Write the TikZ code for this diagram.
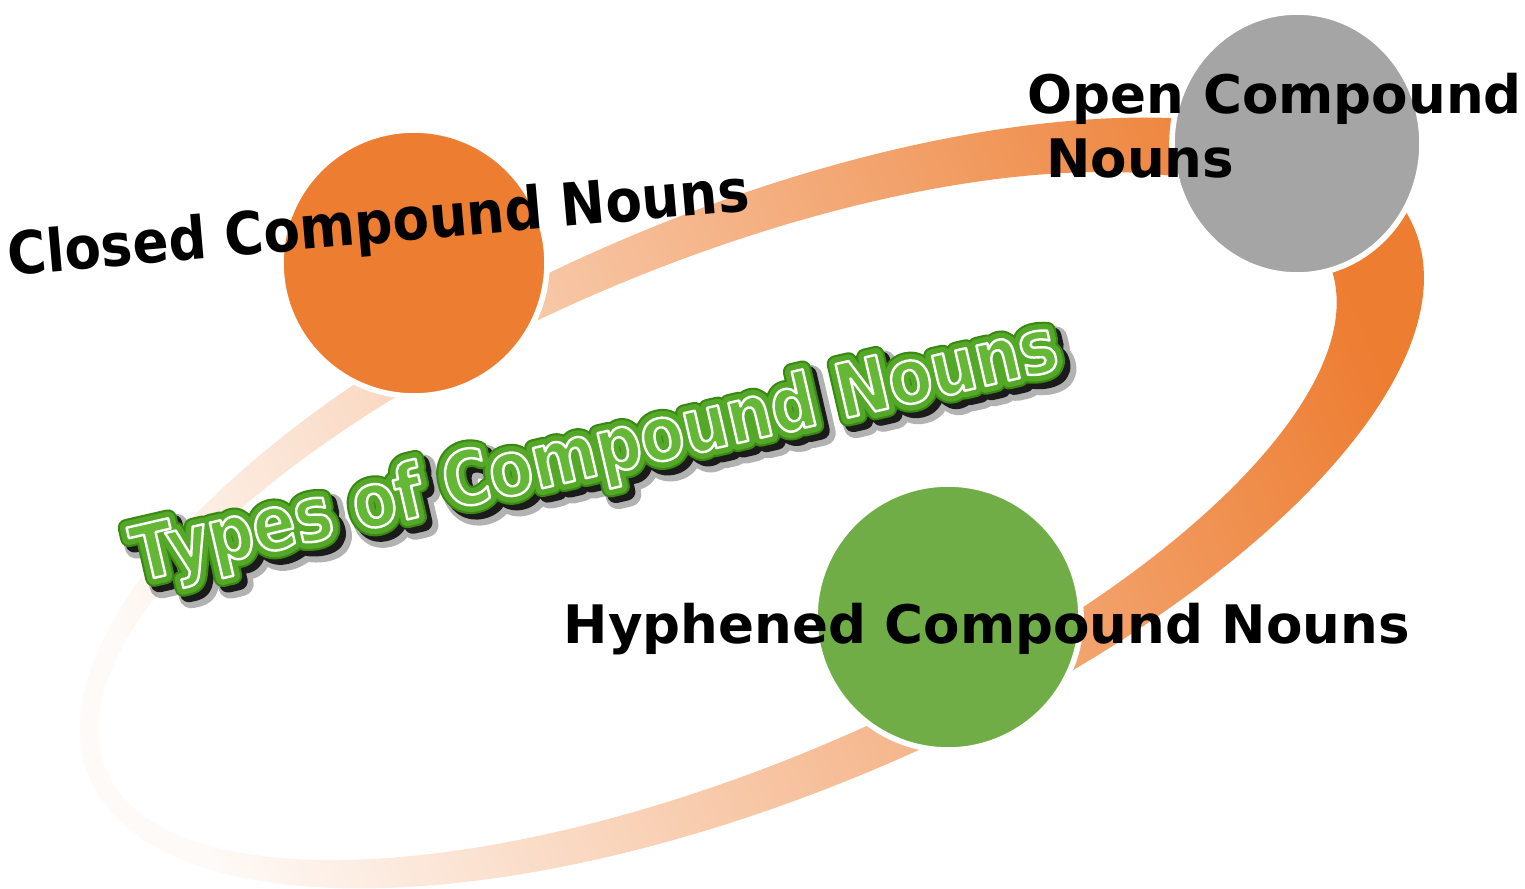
\documentclass[tikz,border=0pt]{standalone}
\usepackage{fontspec}
\usetikzlibrary{shapes.geometric}
\setmainfont{DejaVu Sans}
\newfontfamily\narrowfont[FakeStretch=0.9]{DejaVu Sans}
\newfontfamily\titlefont[FakeStretch=0.84]{DejaVu Sans Bold}
\definecolor{ringorange}{RGB}{237,125,49}
\definecolor{bubblegray}{RGB}{165,165,165}
\definecolor{bubblegreen}{RGB}{112,173,71}
\definecolor{titledark}{RGB}{58,135,20}
\definecolor{titlemid}{RGB}{84,168,40}
\definecolor{titlelight}{RGB}{100,184,54}
\newcommand{\titlewords}{Types of Compound Nouns}
\newcommand{\outlined}[3][]{\special{pdf:literal direct 2 Tr #2 w 1 j #1}#3\special{pdf:literal direct 0 Tr}}
\tikzset{
  bubble/.style={circle, draw=white, line width=1.6pt, minimum size=2.66cm, inner sep=0pt},
  nounlabel/.style={inner sep=0pt, text=black, font=\bfseries\fontsize{15.1}{18.2}\selectfont},
  titlebase/.style={anchor=base, rotate=13, inner sep=0pt, font=\titlefont\fontsize{21.5}{26}\selectfont}
}
\begin{document}
\begin{tikzpicture}
\useasboundingbox (0,0) rectangle (15.25,8.88);
% ring behind the bubbles
\begin{scope}[shift={(7.52,3.85)}, rotate=22.5]
\shade[even odd rule, left color=ringorange!4, right color=ringorange, shading angle=112.5]
  (0,0) ellipse [x radius=7.17, y radius=2.93]
  (-0.369,0.012) ellipse [x radius=6.62, y radius=2.52];
\end{scope}
% bubbles
\node[bubble, fill=ringorange] (closed) at (4.14,6.25) {};
\node[bubble, ellipse, fill=bubblegray, minimum width=2.5cm, minimum height=2.63cm] (open) at (12.97,7.445) {};
\node[bubble, fill=bubblegreen] (hyphened) at (9.48,2.71) {};
% labels
\node[nounlabel, anchor=base, rotate=5, font=\narrowfont\bfseries\fontsize{16.8}{20}\selectfont] (closedtext) at (3.80,6.45) {Closed Compound Nouns};
\node[nounlabel, anchor=base west, align=left] (opentext) at (10.27,7.11) {Open Compound\\~Nouns};
\node[nounlabel, anchor=base west] (hyphenedtext) at (5.63,2.45) {Hyphened Compound Nouns};
% title: blurred shadow, dark rim, green rim, light face with white line
\begin{scope}[transparency group, opacity=0.3]
\node[titlebase, text=black] (titleblur) at (6.08,4.05) {\outlined{7}{\titlewords}};
\end{scope}
\begin{scope}[transparency group, opacity=0.85]
\node[titlebase, text=black] (titleshadow) at (6.055,4.075) {\outlined{5}{\titlewords}};
\end{scope}
\node[titlebase, text=titledark] (titlerim) at (6.0,4.13) {\outlined{5}{\titlewords}};
\node[titlebase, text=titlemid] (titleouter) at (6.0,4.13) {\outlined{3.8}{\titlewords}};
\node[titlebase, text=titlelight] (title) at (6.0,4.13) {\outlined[1 1 1 RG]{0.7}{\titlewords}};
\end{tikzpicture}
\end{document}
